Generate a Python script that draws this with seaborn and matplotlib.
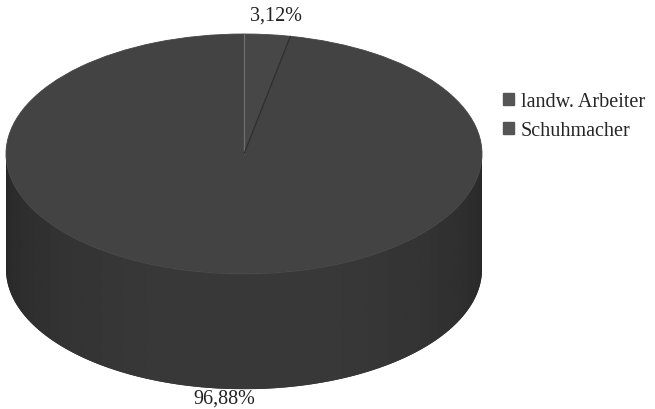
import numpy as np
import seaborn as sns
import matplotlib.pyplot as plt
from matplotlib.patches import Patch, Polygon

sns.set_style("white")
plt.rcParams["font.family"] = ["Liberation Serif", "DejaVu Serif"]

# data
labels = ["landw. Arbeiter", "Schuhmacher"]
shares = [3.12, 96.88]
pct_labels = ["3,12%", "96,88%"]

top_colors = ["#474747", "#434343"]
legend_color = "#555555"
depth = 0.96  # height of the cylinder, in units of the radius

fig = plt.figure(figsize=(6.55, 4.10), dpi=100)
ax = fig.add_axes([0, 0, 490 / 655, 1])

# front side of the 3d pie: outline + horizontal gradient clipped to it
theta = np.linspace(np.pi, 2 * np.pi, 200)
side_x = np.concatenate([np.cos(theta), np.cos(theta[::-1])])
side_y = np.concatenate([np.sin(theta), np.sin(theta[::-1]) - depth])
side = Polygon(np.column_stack([side_x, side_y]), closed=True,
               fc="#303030", ec="none", zorder=1)
ax.add_patch(side)
gx = np.linspace(-1, 1, 400)
grad = 0.155 + 0.07 * np.sqrt(1 - gx ** 2)
im = ax.imshow(grad[None, :], cmap="gray", vmin=0, vmax=1, aspect="auto",
               extent=(-1, 1, -1 - depth, 0.05), zorder=1.5,
               interpolation="bilinear")
im.set_clip_path(side)

# top face
ax.pie(shares, startangle=90, counterclock=False, colors=top_colors,
       wedgeprops=dict(linewidth=0.6), radius=1)
for p in ax.patches[-len(shares):]:
    p.set_zorder(2)
    p.set_edgecolor(p.get_facecolor())

# slice boundaries
bounds = 90 - 360 * np.cumsum([0] + shares[:-1]) / 100
for b, c in zip(bounds, ["#6e6e6e", "#2f2f2f"]):
    r = np.deg2rad(b)
    ax.plot([0, np.cos(r)], [0, np.sin(r)], color=c, lw=0.9, zorder=3)

# percentage labels
mids = np.deg2rad(bounds - 360 * np.array(shares) / 200)
for m, txt in zip(mids, pct_labels):
    if np.sin(m) >= 0:
        x, y = 1.16 * np.cos(m) + 0.02, 1.16 * np.sin(m)
    else:
        x, y = 1.03 * np.cos(m) + 0.02, 1.03 * np.sin(m) - depth - 0.05
    ax.text(x, y, txt, ha="center", va="center", fontsize=14.5, color="#222222")

ax.set_aspect("auto")
ax.set_xlim(-244 / 238, 246 / 238)
ax.set_ylim(-255 / 120, 155 / 120)
ax.axis("off")

handles = [Patch(color=legend_color, label=l) for l in labels]
fig.legend(handles=handles, loc="upper left",
           bbox_to_anchor=(503 / 655, 1 - 93 / 410), frameon=False,
           fontsize=14.5, handlelength=0.55, handleheight=0.55,
           handletextpad=0.35, labelspacing=0.5, borderaxespad=0, borderpad=0)

fig.savefig("out.png", dpi=100)
